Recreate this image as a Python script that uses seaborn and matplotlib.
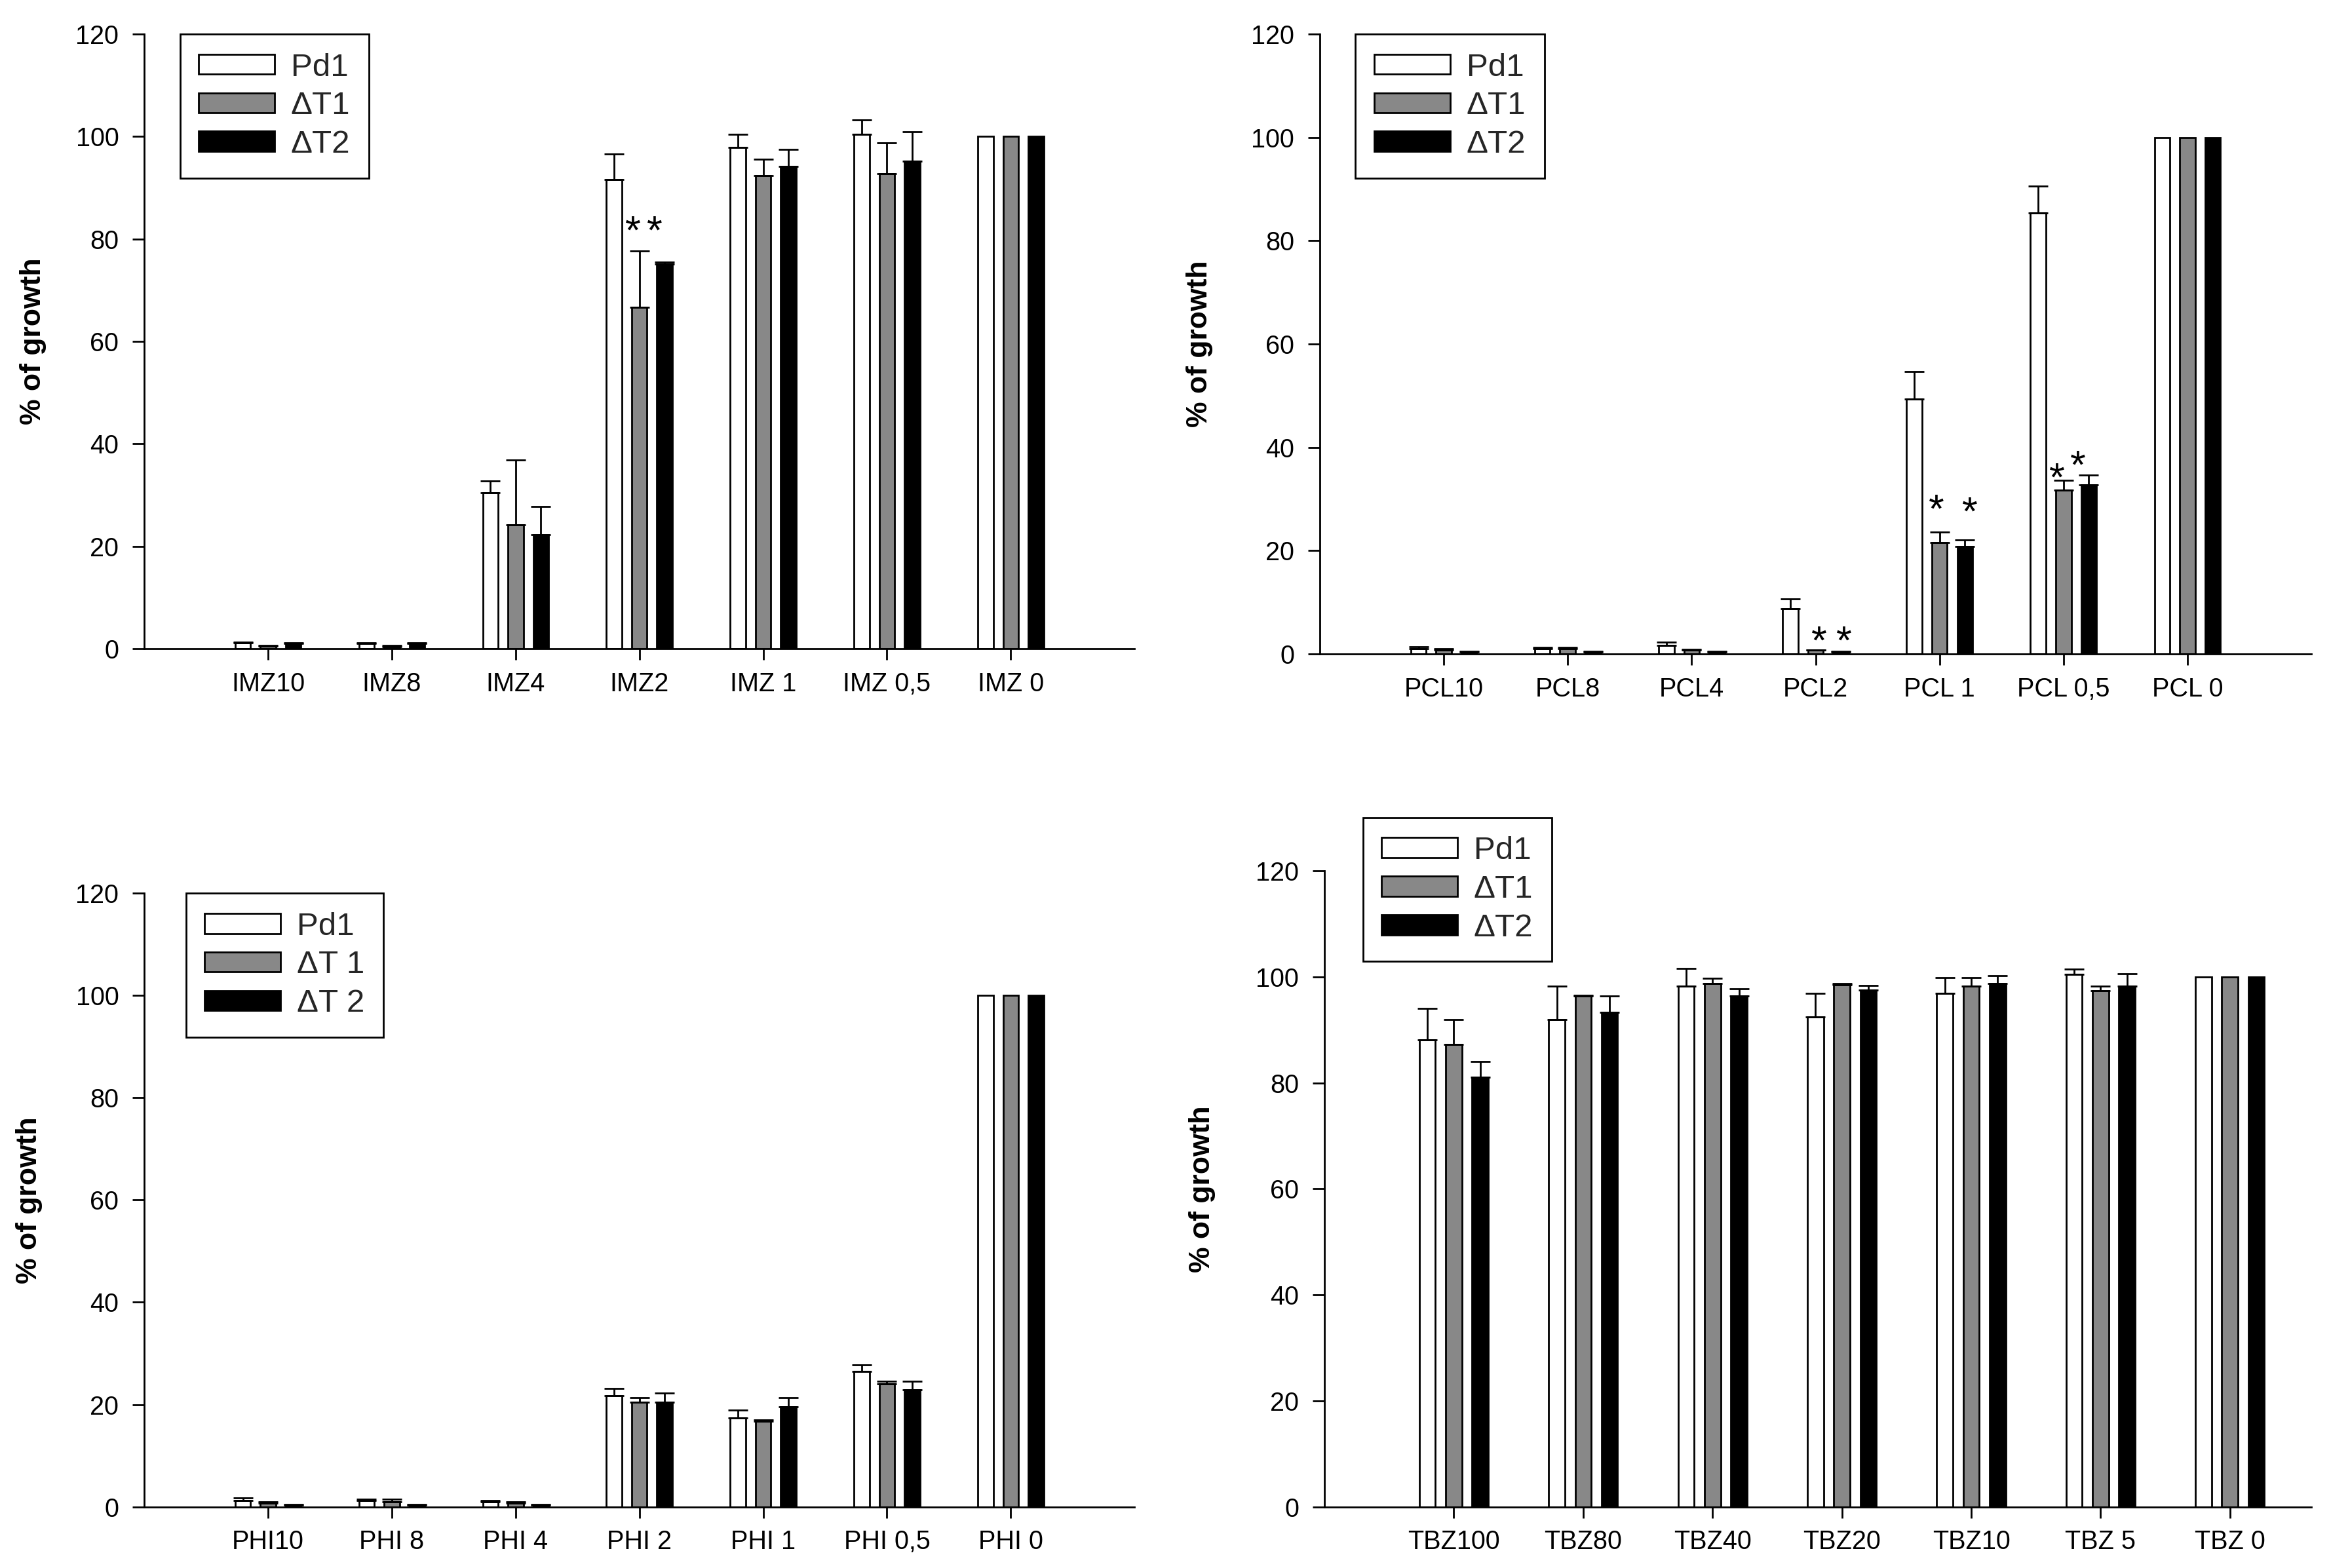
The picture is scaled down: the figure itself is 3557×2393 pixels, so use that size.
import numpy as np
import pandas as pd
import matplotlib
matplotlib.use("Agg")
import matplotlib.pyplot as plt
from matplotlib.patches import Patch
from matplotlib.container import BarContainer
import seaborn as sns

sns.set_style("ticks")
plt.rcParams["font.family"] = ["Liberation Sans", "DejaVu Sans"]

# ---------------- data ----------------
series_colors = ["#ffffff", "#888888", "#000000"]
legend_std = ["Pd1", "\u0394T1", "\u0394T2"]
legend_phi = ["Pd1", "\u0394T 1", "\u0394T 2"]

imz_cats = ["IMZ10", "IMZ8", "IMZ4", "IMZ2", "IMZ 1", "IMZ 0,5", "IMZ 0"]
imz_pd1 = [1.1, 1.0, 30.4, 91.6, 97.9, 100.4, 100]
imz_t1 = [0.5, 0.4, 24.2, 66.7, 92.3, 92.7, 100]
imz_t2 = [1.0, 1.0, 22.3, 75.1, 94.1, 95.2, 100]
imz_pd1_err = [0.2, 0.2, 2.4, 5.0, 2.5, 2.8, 0]
imz_t1_err = [0.2, 0.2, 12.6, 11.0, 3.2, 6.1, 0]
imz_t2_err = [0.2, 0.2, 5.4, 0.4, 3.4, 5.7, 0]

pcl_cats = ["PCL10", "PCL8", "PCL4", "PCL2", "PCL 1", "PCL 0,5", "PCL 0"]
pcl_pd1 = [1.0, 1.0, 1.6, 8.8, 49.3, 85.3, 100]
pcl_t1 = [0.8, 1.0, 0.8, 0.7, 21.6, 31.7, 100]
pcl_t2 = [0.4, 0.4, 0.4, 0.4, 20.8, 32.7, 100]
pcl_pd1_err = [0.4, 0.3, 0.7, 1.8, 5.4, 5.2, 0]
pcl_t1_err = [0.2, 0.3, 0.1, 0.1, 2.0, 1.9, 0]
pcl_t2_err = [0.1, 0.1, 0.1, 0.1, 1.3, 1.9, 0]

phi_cats = ["PHI10", "PHI 8", "PHI 4", "PHI 2", "PHI 1", "PHI 0,5", "PHI 0"]
phi_pd1 = [1.3, 1.2, 1.0, 21.8, 17.4, 26.5, 100]
phi_t1 = [0.7, 1.0, 0.7, 20.4, 16.8, 24.1, 100]
phi_t2 = [0.4, 0.4, 0.4, 20.4, 19.5, 22.9, 100]
phi_pd1_err = [0.4, 0.3, 0.3, 1.4, 1.5, 1.2, 0]
phi_t1_err = [0.3, 0.5, 0.3, 0.9, 0.2, 0.5, 0]
phi_t2_err = [0.1, 0.1, 0.1, 1.9, 1.8, 1.7, 0]

tbz_cats = ["TBZ100", "TBZ80", "TBZ40", "TBZ20", "TBZ10", "TBZ 5", "TBZ 0"]
tbz_pd1 = [88.1, 91.9, 98.3, 92.4, 96.9, 100.5, 100]
tbz_t1 = [87.2, 96.4, 98.8, 98.5, 98.3, 97.4, 100]
tbz_t2 = [81.1, 93.3, 96.4, 97.5, 98.8, 98.3, 100]
tbz_pd1_err = [6.0, 6.4, 3.3, 4.5, 2.9, 1.0, 0]
tbz_t1_err = [4.7, 0.1, 0.9, 0.3, 1.5, 0.9, 0]
tbz_t2_err = [2.9, 3.1, 1.4, 0.9, 1.4, 2.3, 0]

y_ticks = [0, 20, 40, 60, 80, 100, 120]
ylabel_text = "% of growth"

# significance stars: (category index, series index, y of star centre, small x nudge in px)
imz_stars = [(3, 1, 83.7, -10), (3, 2, 83.7, -15)]
pcl_stars = [(3, 1, 4.6, 5), (3, 2, 4.6, 5),
             (4, 1, 30.0, -5), (4, 2, 29.5, 8),
             (5, 1, 36.1, -10), (5, 2, 38.6, -17)]

# ---------------- figure ----------------
fig = plt.figure(figsize=(35.57, 23.93), dpi=100)

TICK_FS = 28.5
LEG_FS = 35.5
STAR_FS = 44


def draw_panel(rect, cats, vals, errs, labels, xlim, leg_anchor, ylab_x, stars):
    ax = fig.add_axes(rect)
    rows = []
    for lab, series in zip(labels, vals):
        for c, v in zip(cats, series):
            rows.append({"cat": c, "val": v, "series": lab})
    df = pd.DataFrame(rows)
    sns.barplot(data=df, x="cat", y="val", hue="series", order=cats,
                hue_order=labels, palette=dict(zip(labels, series_colors)),
                width=0.612, gap=0.39, edgecolor="black", linewidth=2.0,
                errorbar=None, saturation=1, legend=False, ax=ax, zorder=2)

    # error bars (upward only), placed on the bars drawn by seaborn
    bar_conts = [c for c in ax.containers if isinstance(c, BarContainer)]
    centers = {}
    for s, cont in enumerate(bar_conts):
        for bar in cont.patches:
            xc = bar.get_x() + bar.get_width() / 2
            j = int(round(xc))
            h = bar.get_height()
            centers[(j, s)] = (xc, h)
    for (j, s), (xc, h) in centers.items():
        e = errs[s][j]
        if e > 0:
            ax.errorbar(xc, h, yerr=[[0], [e]], fmt="none", ecolor="black",
                        elinewidth=2.0, capsize=10.5, capthick=2.0, zorder=3)

    for (j, s, ys, dxpx) in stars:
        xc, _ = centers[(j, s)]
        ax.annotate("*", xy=(xc, ys), xytext=(dxpx * 0.72, -0.58 * STAR_FS),
                    textcoords="offset points", ha="center", va="baseline",
                    fontsize=STAR_FS, color="black", zorder=4)

    ax.set_ylim(0, 120)
    ax.set_yticks(y_ticks)
    ax.set_xlim(*xlim)
    ax.set_xlabel("")
    ax.set_ylabel(ylabel_text, fontsize=32, fontweight="bold", color="black")
    ax.yaxis.set_label_coords(ylab_x, 0.5)
    ax.grid(False)
    for sp in ["top", "right"]:
        ax.spines[sp].set_visible(False)
    for sp in ["left", "bottom"]:
        ax.spines[sp].set_linewidth(2.0)
        ax.spines[sp].set_color("black")
    ax.tick_params(axis="y", direction="out", length=13, width=2, pad=15,
                   labelsize=TICK_FS, colors="black")
    ax.tick_params(axis="x", direction="out", length=12, width=2, pad=13,
                   labelsize=TICK_FS, colors="black")

    handles = [Patch(facecolor=c, edgecolor="black", linewidth=2.0) for c in series_colors]
    leg = ax.legend(handles, labels, loc="upper left", bbox_to_anchor=leg_anchor,
                    borderaxespad=0, fontsize=LEG_FS, frameon=True, fancybox=False,
                    edgecolor="black", framealpha=1, handlelength=2.35,
                    handleheight=0.58, handletextpad=0.5, labelspacing=0.28,
                    borderpad=0.58)
    leg.get_frame().set_linewidth(2.0)
    return ax


draw_panel([0.0619, 0.5863, 0.4248, 0.3920], imz_cats,
           [imz_pd1, imz_t1, imz_t2], [imz_pd1_err, imz_t1_err, imz_t2_err],
           legend_std, (-1.0, 7.0), (0.036, 1.0), -0.099, imz_stars)

draw_panel([0.5662, 0.5830, 0.4254, 0.3953], pcl_cats,
           [pcl_pd1, pcl_t1, pcl_t2], [pcl_pd1_err, pcl_t1_err, pcl_t2_err],
           legend_std, (-1.0, 7.0), (0.036, 1.0), -0.108, pcl_stars)

draw_panel([0.0619, 0.0390, 0.4248, 0.3914], phi_cats,
           [phi_pd1, phi_t1, phi_t2], [phi_pd1_err, phi_t1_err, phi_t2_err],
           legend_phi, (-1.0, 7.0), (0.042, 1.0), -0.103, [])

draw_panel([0.5682, 0.0390, 0.4234, 0.4056], tbz_cats,
           [tbz_pd1, tbz_t1, tbz_t2], [tbz_pd1_err, tbz_t1_err, tbz_t2_err],
           legend_std, (-1.0, 6.63), (0.039, 1.084), -0.110, [])

fig.savefig("out.png", dpi=100)
